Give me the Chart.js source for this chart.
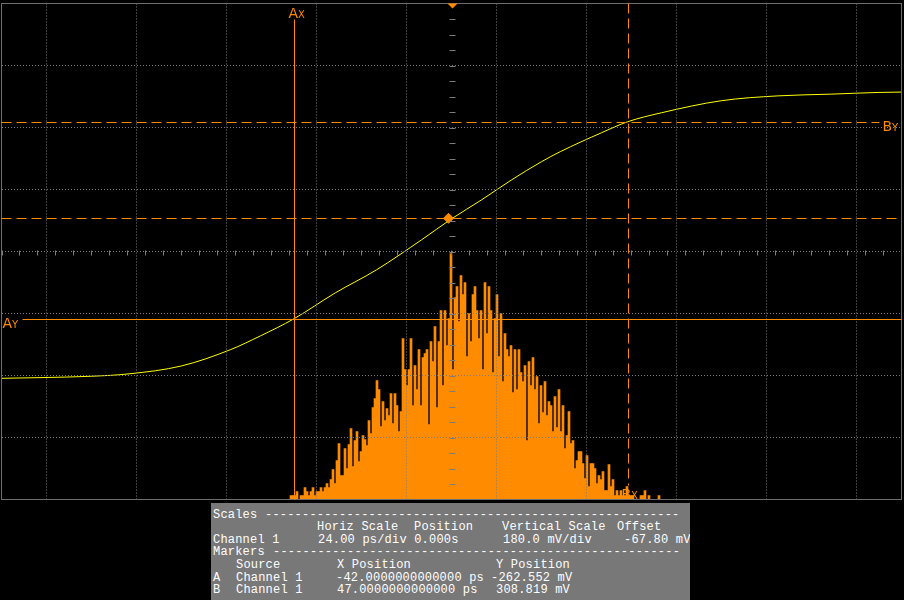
<!DOCTYPE html>
<html>
<head>
<meta charset="utf-8">
<script src="https://cdn.jsdelivr.net/npm/chart.js@4"></script>
<style>
  body { margin: 0; background: #000; width: 904px; height: 600px; overflow: hidden; position: relative; }
  #wrap { position: absolute; left: 0; top: 0; width: 904px; height: 500px; }
  #panel { position: absolute; left: 211px; top: 503px; width: 479px; height: 97px; background: #787878;
           overflow: hidden; font: 12px "Liberation Mono", monospace; letter-spacing: 0.2px; color: #fff; }
  #panel span { position: absolute; white-space: pre; line-height: 12px; }
</style>
</head>
<body>
<div id="wrap"><canvas id="chart" width="904" height="500"></canvas></div>
<div id="panel">
  <span style="left:2px;top:6px">Scales</span><span style="left:54px;top:6px">--------------------------------------------------------</span>
  <span style="left:106px;top:18px">Horiz Scale</span><span style="left:203px;top:18px">Position</span><span style="left:291px;top:18px">Vertical Scale</span><span style="left:406px;top:18px">Offset</span>
  <span style="left:2px;top:31px">Channel 1</span><span style="left:107px;top:31px">24.00 ps/div 0.000s</span><span style="left:292px;top:31px">180.0 mV/div</span><span style="left:413px;top:31px">-67.80 mV</span>
  <span style="left:2px;top:43px">Markers</span><span style="left:62px;top:43px">-------------------------------------------------------</span>
  <span style="left:25px;top:56px">Source</span><span style="left:126px;top:56px">X Position</span><span style="left:285px;top:56px">Y Position</span>
  <span style="left:2px;top:69px">A</span><span style="left:25px;top:69px">Channel 1</span><span style="left:125px;top:69px">-42.0000000000000 ps</span><span style="left:280px;top:69px">-262.552 mV</span>
  <span style="left:2px;top:81px">B</span><span style="left:25px;top:81px">Channel 1</span><span style="left:126px;top:81px">47.0000000000000 ps</span><span style="left:285px;top:81px">308.819 mV</span>
</div>
<script>
// =====================
// Data
// =====================
// Channel 1 edge, time in ps, level in mV
const curveTime = [-120, -110, -96, -86, -72, -59, -51, -42, -31, -20, -8, 0, 8, 16, 24, 29, 40, 47, 56, 72, 87, 101, 114, 120];
const curveMv   = [-436, -434, -430, -423, -400, -353, -313, -263, -188, -121, -34, 27, 82, 140, 193, 222, 277, 309, 335, 370, 384, 389, 394, 395];

// jitter histogram (hits per bin)
const histStart = -42.8;   // ps, first bin centre
const histBin = 0.5333;    // ps per bin
const histCounts = [
  4, 4, 4, 8, 0, 4, 4, 12, 8, 4, 8, 12, 4, 8, 8, 12, 8, 12, 16, 12,
  20, 30, 16, 39, 56, 24, 24, 51, 31, 55, 71, 33, 59, 68, 38, 48, 64, 60, 54, 79,
  66, 92, 101, 119, 110, 73, 98, 79, 91, 84, 106, 76, 106, 94, 68, 88, 161, 130, 114, 130,
  161, 94, 134, 110, 150, 94, 142, 146, 150, 75, 158, 138, 173, 92, 158, 189, 114, 189, 154, 181,
  246, 130, 202, 213, 178, 224, 205, 217, 143, 186, 158, 205, 213, 189, 161, 189, 130, 217, 166, 213,
  189, 127, 181, 205, 143, 186, 118, 166, 150, 143, 154, 107, 150, 110, 150, 127, 118, 134, 59, 138,
  114, 142, 110, 123, 76, 114, 87, 118, 84, 98, 94, 68, 103, 72, 110, 68, 94, 51, 64, 88,
  56, 59, 31, 39, 48, 48, 36, 21, 44, 13, 36, 36, 31, 16, 24, 20, 28, 9, 9, 35,
  13, 20, 4, 9, 4, 9, 4, 4, 13, 4, 4, 4, 0, 0, 0, 4, 4, 9, 0, 4,
  0, 0, 0, 0, 4
];

// markers
const markerAX = -42, markerAY = -262.552;
const markerBX = 47,  markerBY = 308.819;
const crossX = -0.8, crossY = 28.6;

// graticule: 24 ps/div, 180 mV/div, offset -67.8 mV
const xGrid = [-120, -96, -72, -48, -24, 0, 24, 48, 72, 96, 120];
const yGrid = [-787.8, -607.8, -427.8, -247.8, -67.8, 112.2, 292.2, 472.2, 652.2];
const yOffset = -67.8;

const ORANGE = "#ff8c00";
const GRID = "#7c7c7c";

// =====================
// Scope overlay
// =====================
function subLabel(ctx, x, y, big, small) {
  ctx.fillStyle = ORANGE;
  ctx.textBaseline = "alphabetic";
  ctx.textAlign = "left";
  ctx.font = '14px "DejaVu Sans"';
  ctx.fillText(big, x, y);
  const w = ctx.measureText(big).width;
  ctx.font = '10px "DejaVu Sans"';
  ctx.fillText(small, x + w, y);
}

const scopePlugin = {
  id: "scope",
  afterDraw(chart) {
    const { ctx, chartArea: a, scales } = chart;
    const x = scales.x, y = scales.y;
    ctx.save();

    // minor ticks on the centre lines
    const x0 = Math.round(x.getPixelForValue(0)) + 0.5;
    const y0 = Math.round(y.getPixelForValue(yOffset)) + 0.5;
    ctx.strokeStyle = GRID;
    ctx.lineWidth = 1;
    ctx.beginPath();
    for (let v = yGrid[0]; v <= yGrid[yGrid.length - 1] + 1; v += 45) {
      const py = Math.round(y.getPixelForValue(v)) + 0.5;
      ctx.moveTo(x0 - 3, py); ctx.lineTo(x0 + 3, py);
    }
    for (let v = xGrid[0]; v <= xGrid[xGrid.length - 1] + 0.1; v += 4.8) {
      const px = Math.round(x.getPixelForValue(v)) + 0.5;
      ctx.moveTo(px, y0 - 2); ctx.lineTo(px, y0 + 3);
    }
    ctx.stroke();

    // frame
    ctx.strokeStyle = "#6e6e6e";
    ctx.strokeRect(a.left, a.top, a.right - a.left, a.bottom - a.top);

    const ax = Math.round(x.getPixelForValue(markerAX)) + 0.5;
    const ay = Math.round(y.getPixelForValue(markerAY)) + 0.5;
    const bx = Math.round(x.getPixelForValue(markerBX)) + 0.5;
    const by = Math.round(y.getPixelForValue(markerBY)) + 0.5;
    const cy = Math.round(y.getPixelForValue(crossY)) + 0.5;

    ctx.strokeStyle = ORANGE;
    ctx.lineWidth = 1;
    // A markers, solid
    ctx.beginPath();
    ctx.moveTo(ax, a.top + 16); ctx.lineTo(ax, a.bottom);
    ctx.moveTo(a.left + 21, ay); ctx.lineTo(a.right, ay);
    ctx.stroke();

    // B markers and crossing level, dashed
    ctx.setLineDash([10, 5]);
    ctx.beginPath();
    ctx.moveTo(bx, a.top); ctx.lineTo(bx, a.bottom - 14);
    ctx.moveTo(a.left, by); ctx.lineTo(a.right - 22, by);
    ctx.moveTo(a.left, cy); ctx.lineTo(a.right, cy);
    ctx.stroke();
    ctx.setLineDash([]);

    // labels
    subLabel(ctx, ax - 6, a.top + 14, "A", "X");
    subLabel(ctx, a.left + 1, ay + 8, "A", "Y");
    subLabel(ctx, a.right - 19, by + 8, "B", "Y");
    subLabel(ctx, bx - 7, a.bottom - 1, "B", "X");

    // trigger position marker
    ctx.fillStyle = ORANGE;
    ctx.beginPath();
    ctx.moveTo(x0 - 5, a.top);
    ctx.lineTo(x0 + 5, a.top);
    ctx.lineTo(x0, a.top + 5);
    ctx.closePath();
    ctx.fill();

    ctx.restore();
  }
};

// =====================
// Chart
// =====================
const ctx = document.getElementById("chart").getContext("2d");
new Chart(ctx, {
  type: "line",
  data: {
    datasets: [
      {
        label: "Crossing",
        data: [{ x: crossX, y: crossY }],
        showLine: false,
        pointStyle: "rectRot",
        pointRadius: 5,
        backgroundColor: ORANGE,
        borderColor: ORANGE
      },
      {
        label: "Channel 1",
        data: curveTime.map((t, i) => ({ x: t, y: curveMv[i] })),
        borderColor: "#ffff00",
        borderWidth: 1,
        pointRadius: 0,
        cubicInterpolationMode: "monotone"
      },
      {
        type: "bar",
        label: "Histogram",
        yAxisID: "yh",
        data: histCounts.map((c, i) => ({ x: histStart + i * histBin, y: c })),
        backgroundColor: ORANGE,
        borderWidth: 0,
        barPercentage: 1,
        categoryPercentage: 1,
        grouped: false
      }
    ]
  },
  options: {
    responsive: false,
    animation: false,
    events: [],
    layout: { autoPadding: false, padding: { left: 1.5, right: 2.5, top: 3.5, bottom: 0.5 } },
    plugins: { legend: { display: false }, tooltip: { enabled: false } },
    scales: {
      x: {
        type: "linear",
        min: -120, max: 120,
        offset: false,
        afterBuildTicks: s => { s.ticks = xGrid.map(v => ({ value: v })); },
        ticks: { display: false },
        grid: { color: GRID, lineWidth: 1, drawTicks: false, z: 1 },
        border: { display: false, dash: [1, 2] }
      },
      y: {
        min: yGrid[0], max: yGrid[yGrid.length - 1],
        afterBuildTicks: s => { s.ticks = yGrid.map(v => ({ value: v })); },
        ticks: { display: false },
        grid: { color: GRID, lineWidth: 1, drawTicks: false, z: 1 },
        border: { display: false, dash: [1, 2] }
      },
      yh: {
        display: false,
        min: 0, max: 496
      }
    }
  },
  plugins: [scopePlugin]
});
</script>
</body>
</html>
